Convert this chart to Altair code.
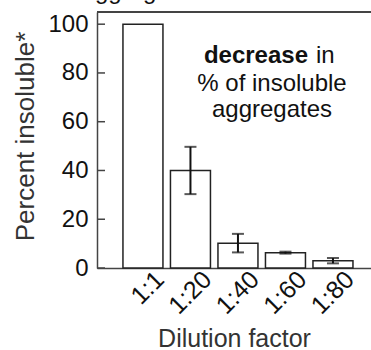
import altair as alt
import pandas as pd

categories = ["1:1", "1:20", "1:40", "1:60", "1:80"]
means = [100.0, 40.0, 10.2, 6.3, 3.0]
errors = [0.0, 9.7, 3.8, 0.4, 1.1]
y_ticks = [0, 20, 40, 60, 80, 100]

df = pd.DataFrame({"cat": categories, "mean": means, "err": errors})
df["lo"] = df["mean"] - df["err"]
df["hi"] = df["mean"] + df["err"]
df_err = df[df["err"] > 0]

W, H = 274, 256
FONT = "Liberation Sans"

xscale = alt.Scale(domain=categories, paddingInner=0.158, paddingOuter=0.463, align=0.59)
yscale = alt.Scale(domain=[0, 105], nice=False, zero=True)

xaxis = alt.Axis(
    title="Dilution factor", labelAngle=-45, labelAlign="right", labelBaseline="middle",
    labelFontSize=25, labelFont=FONT, labelColor="#111", labelPadding=7,
    labelOffset=17, ticks=False, domainColor="#444", domainWidth=1.5,
    titleFontSize=25, titleFont=FONT, titleFontWeight="normal", titleColor="#333",
    titleY=78, titleBaseline="alphabetic",
)
yaxis = alt.Axis(
    title="Percent insoluble*", values=y_ticks, ticks=False, grid=False,
    labelFontSize=24, labelFont=FONT, labelColor="#111", labelPadding=9,
    domainColor="#444", domainWidth=1.5,
    titleFontSize=26, titleFont=FONT, titleFontWeight="normal", titleColor="#333",
    titleX=-64, titleY=124, titleBaseline="alphabetic", titleAngle=-90,
)

bars = alt.Chart(df).mark_bar(fill="white", stroke="#222", strokeWidth=1.5).encode(
    x=alt.X("cat:N", scale=xscale, axis=xaxis, sort=categories),
    y=alt.Y("mean:Q", scale=yscale, axis=yaxis),
)

err_rule = alt.Chart(df_err).mark_rule(color="#111", strokeWidth=2).encode(
    x=alt.X("cat:N", scale=xscale, sort=categories),
    y=alt.Y("lo:Q", scale=yscale),
    y2="hi:Q",
)
cap_lo = alt.Chart(df_err).mark_tick(color="#111", thickness=2, size=12, orient="horizontal").encode(
    x=alt.X("cat:N", scale=xscale, sort=categories),
    y=alt.Y("lo:Q", scale=yscale),
)
cap_hi = alt.Chart(df_err).mark_tick(color="#111", thickness=2, size=12, orient="horizontal").encode(
    x=alt.X("cat:N", scale=xscale, sort=categories),
    y=alt.Y("hi:Q", scale=yscale),
)

tick_df = pd.DataFrame({"t": y_ticks})
yticks = alt.Chart(tick_df).mark_rule(color="#444", strokeWidth=1.5).encode(
    y=alt.Y("t:Q", scale=yscale),
    x=alt.value(0), x2=alt.value(8),
)

top_border = alt.Chart(tick_df).mark_rule(color="#444", strokeWidth=1.5).encode(
    x=alt.value(0), x2=alt.value(W), y=alt.value(0)
)

def txt(text, x, y, align="center", weight="normal", size=24, color="#111"):
    return alt.Chart(pd.DataFrame({"t": [text]})).mark_text(
        align=align, baseline="alphabetic", fontSize=size, font=FONT,
        fontWeight=weight, color=color,
    ).encode(text="t:N", x=alt.value(x), y=alt.value(y))

ann = (
    txt("decrease", 211, 51, align="right", weight="bold")
    + txt("in", 219, 51, align="left")
    + txt("% of insoluble", 175, 79)
    + txt("aggregates", 175, 105)
)

title = txt("Aggregate level decrease", -18, -13, align="left", size=24, color="#111")

chart = alt.layer(bars, err_rule, cap_lo, cap_hi, yticks, top_border, ann, title).properties(
    width=W, height=H,
    autosize=alt.AutoSizeParams(type="none"),
    padding={"left": 97, "top": 12, "right": 0, "bottom": 82},
).configure_view(stroke=None).configure(background="white")

chart.save("out.html", embed_options={"renderer": "svg", "actions": False})
